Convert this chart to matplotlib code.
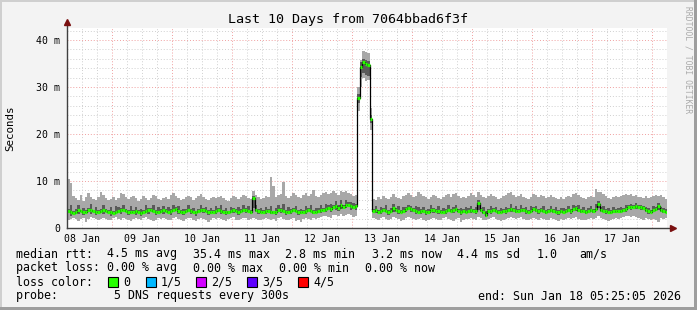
import numpy as np
import matplotlib
matplotlib.use("Agg")
import matplotlib.pyplot as plt
from matplotlib.patches import Rectangle

plt.rcParams['font.family'] = ['DejaVu Sans Mono']

# hourly samples, 5 pings each, sorted (ms); x in hours since 08 Jan 00:00
start_hour = 6.0
ping_min = [
    1.7, 1.9, 2.1, 2.0, 1.5, 1.9, 2.2, 1.3, 2.0, 2.3, 2.1, 1.9, 1.7, 2.0, 2.2, 1.9, 1.6, 1.8, 2.1, 2.3,
    2.0, 1.8, 2.2, 1.9, 1.7, 1.5, 2.0, 2.2, 1.9, 1.6, 2.1, 2.3, 2.0, 1.8, 1.4, 1.7, 2.1, 1.9, 2.2, 2.0,
    1.7, 1.6, 2.1, 2.3, 1.9, 1.7, 1.4, 2.0, 2.2, 2.1, 1.8, 1.5, 1.9, 2.2, 2.0, 1.7, 1.3, 1.8, 2.1, 1.9,
    2.2, 2.0, 1.7, 1.5, 1.9, 2.1, 2.3, 1.8, 1.6, 2.0, 2.2, 2.1, 1.7, 1.9, 2.2, 2.0, 1.8, 1.6, 1.9, 2.1,
    1.9, 1.7, 2.0, 1.5, 2.1, 2.3, 1.9, 1.6, 1.8, 2.0, 2.2, 1.4, 1.7, 1.2, 1.9, 2.1, 2.0, 1.8, 2.2, 1.9,
    2.1, 2.3, 2.5, 2.6, 2.4, 2.2, 2.7, 2.8, 2.5, 2.9, 2.6, 2.8, 3.0, 2.7, 2.4, 2.6, 25.0, 30.0, 31.9, 31.2,
    31.5, 20.9, 2.2, 2.0, 1.8, 2.1, 2.3, 1.9, 1.6, 2.0, 2.4, 2.1, 1.9, 1.5, 1.8, 2.2, 2.4, 2.1, 1.9, 1.6,
    1.9, 2.1, 1.8, 1.5, 1.7, 2.0, 2.2, 1.9, 1.6, 1.8, 2.1, 2.3, 2.0, 1.7, 1.4, 1.9, 2.1, 1.3, 1.8, 2.0,
    1.9, 2.2, 2.0, 1.8, 2.3, 2.1, 1.7, 1.6, 1.9, 2.1, 2.3, 2.0, 1.8, 1.5, 1.7, 2.0, 2.2, 2.4, 2.1, 1.9,
    2.1, 2.3, 2.0, 1.7, 1.6, 1.9, 2.2, 2.0, 1.7, 2.1, 1.9, 1.6, 1.8, 2.1, 2.0, 1.7, 1.5, 1.9, 1.8, 2.0,
    2.2, 1.9, 2.1, 2.3, 2.0, 1.7, 1.6, 1.8, 2.0, 2.2, 1.9, 2.1, 2.5, 2.2, 1.9, 1.7, 1.5, 1.8, 2.0, 2.1,
    1.9, 2.1, 2.4, 2.6, 2.5, 2.3, 2.6, 2.4, 2.2, 2.0, 1.8, 2.1, 1.9, 1.7, 2.0, 1.8, 1.3, 2.1, 1.9, 2.2,
]
ping_low = [
    3.3, 2.6, 2.9, 3.2, 3.0, 3.3, 2.8, 3.2, 3.4, 3.0, 3.3, 2.7, 3.1, 3.4, 3.0, 3.3, 3.2, 2.6, 2.9, 3.1,
    3.3, 2.9, 3.6, 3.4, 2.7, 3.0, 3.2, 2.8, 3.1, 2.6, 3.2, 3.4, 2.9, 3.6, 3.3, 2.7, 3.1, 3.3, 3.0, 3.4,
    3.2, 2.8, 3.5, 3.7, 2.9, 3.2, 2.7, 3.3, 3.4, 3.0, 3.2, 2.6, 3.3, 3.5, 3.1, 3.3, 2.8, 3.0, 3.2, 2.9,
    3.5, 3.0, 3.2, 2.7, 3.0, 3.3, 3.1, 3.3, 2.8, 3.4, 3.5, 3.1, 3.3, 2.9, 4.2, 3.4, 3.0, 3.1, 3.2, 3.0,
    3.3, 2.9, 3.0, 2.8, 3.4, 3.2, 3.3, 2.7, 3.2, 3.0, 3.5, 3.3, 2.8, 3.0, 3.1, 2.9, 3.4, 3.3, 3.0, 3.1,
    3.3, 3.1, 3.6, 3.4, 3.9, 3.3, 4.0, 3.8, 3.7, 4.0, 4.1, 4.2, 4.6, 3.9, 4.0, 3.8, 26.5, 32.1, 33.0, 32.6,
    32.3, 22.4, 3.3, 3.1, 3.2, 2.9, 3.5, 3.3, 2.8, 3.4, 3.5, 3.5, 3.0, 3.2, 3.3, 3.4, 3.8, 3.4, 3.5, 3.0,
    3.2, 3.0, 3.3, 2.8, 3.2, 3.4, 3.2, 3.4, 2.9, 3.1, 3.2, 3.0, 3.5, 3.3, 3.2, 3.6, 3.4, 2.8, 3.3, 3.1,
    3.3, 3.1, 3.4, 3.0, 3.9, 3.5, 2.9, 2.4, 3.3, 3.0, 3.5, 3.3, 2.9, 3.1, 3.3, 3.0, 3.6, 3.5, 3.4, 3.2,
    3.4, 3.3, 3.5, 3.0, 3.2, 3.1, 3.6, 3.4, 3.0, 3.5, 3.3, 2.9, 3.3, 3.4, 3.1, 3.2, 2.8, 3.3, 3.1, 3.4,
    3.5, 3.0, 3.7, 3.6, 3.5, 3.1, 3.3, 2.9, 3.4, 3.3, 3.2, 3.6, 4.2, 3.3, 3.4, 3.0, 3.2, 2.9, 3.3, 3.2,
    3.3, 3.1, 3.5, 3.5, 4.1, 3.9, 4.2, 4.0, 4.1, 3.8, 3.8, 3.4, 3.0, 3.2, 3.3, 3.7, 3.8, 3.5, 3.1, 3.2,
]
median_rtt = [
    3.7, 3.4, 3.2, 3.5, 3.9, 3.6, 3.4, 3.5, 3.8, 3.9, 3.6, 3.3, 3.4, 3.7, 3.8, 3.6, 3.5, 3.3, 3.2, 3.4,
    3.6, 3.8, 3.9, 3.7, 3.4, 3.3, 3.5, 3.6, 3.4, 3.2, 3.5, 3.7, 3.8, 3.9, 3.6, 3.5, 3.4, 3.6, 3.8, 3.7,
    3.5, 3.6, 3.9, 4.0, 3.7, 3.5, 3.4, 3.6, 3.8, 3.7, 3.5, 3.3, 3.6, 3.9, 3.8, 3.6, 3.4, 3.3, 3.5, 3.6,
    3.8, 3.7, 3.5, 3.4, 3.3, 3.6, 3.8, 3.6, 3.5, 3.7, 3.9, 3.8, 3.6, 3.5, 6.4, 3.8, 3.6, 3.4, 3.5, 3.7,
    3.6, 3.4, 3.3, 3.5, 3.8, 3.9, 3.6, 3.4, 3.5, 3.7, 3.8, 3.6, 3.5, 3.3, 3.4, 3.6, 3.8, 3.7, 3.5, 3.4,
    3.6, 3.8, 3.9, 4.1, 4.3, 4.0, 4.4, 4.6, 4.2, 4.8, 4.5, 4.9, 5.0, 4.7, 4.4, 4.6, 27.7, 34.3, 35.4, 34.9,
    34.6, 23.2, 3.6, 3.8, 3.5, 3.7, 3.9, 3.6, 3.4, 3.7, 4.2, 3.8, 3.6, 3.5, 3.7, 4.0, 4.3, 4.1, 3.8, 3.6,
    3.5, 3.7, 3.6, 3.4, 3.5, 3.8, 3.9, 3.7, 3.6, 3.4, 3.5, 3.7, 3.8, 3.6, 3.9, 4.0, 3.7, 3.5, 3.6, 3.4,
    3.6, 3.8, 3.7, 3.6, 5.3, 3.8, 3.5, 2.8, 3.6, 3.7, 3.8, 3.6, 3.5, 3.4, 3.6, 3.7, 3.9, 4.1, 3.8, 3.6,
    3.7, 3.9, 3.8, 3.6, 3.5, 3.7, 4.0, 3.8, 3.6, 3.9, 3.7, 3.5, 3.6, 3.8, 3.7, 3.5, 3.4, 3.6, 3.5, 3.7,
    3.8, 3.6, 4.0, 4.2, 3.9, 3.7, 3.6, 3.5, 3.7, 3.8, 3.6, 4.1, 5.1, 3.8, 3.7, 3.6, 3.5, 3.4, 3.6, 3.7,
    3.6, 3.7, 3.8, 4.0, 4.4, 4.5, 4.5, 4.6, 4.4, 4.5, 4.2, 3.8, 3.6, 3.5, 3.8, 4.1, 4.6, 3.9, 3.6, 3.5,
]
ping_high = [
    4.1, 4.9, 3.6, 4.0, 5.0, 3.9, 4.3, 3.8, 4.2, 5.1, 3.9, 4.4, 3.8, 4.1, 4.9, 4.0, 3.9, 4.5, 3.6, 4.6,
    4.5, 4.2, 5.0, 4.0, 3.8, 4.6, 3.9, 4.4, 3.8, 4.1, 3.9, 4.8, 4.2, 4.3, 4.9, 3.9, 4.4, 4.0, 4.7, 4.1,
    4.4, 4.0, 4.8, 4.4, 4.6, 3.9, 4.1, 4.0, 4.9, 4.1, 4.3, 3.7, 4.0, 5.0, 4.2, 4.5, 3.8, 4.2, 3.9, 4.6,
    4.2, 4.8, 3.9, 4.3, 3.7, 4.5, 4.2, 4.0, 4.4, 4.1, 5.0, 4.2, 4.6, 3.9, 6.9, 4.8, 4.0, 4.2, 3.9, 4.5,
    4.0, 4.6, 3.7, 4.2, 4.9, 4.3, 5.2, 3.8, 4.4, 4.1, 4.3, 4.7, 3.9, 4.0, 3.8, 4.6, 4.2, 4.9, 3.9, 4.2,
    4.3, 4.9, 4.3, 5.2, 4.8, 5.1, 4.9, 5.7, 4.8, 5.9, 5.0, 6.0, 5.6, 5.5, 5.3, 5.1, 28.5, 35.3, 36.0, 35.8,
    35.5, 24.1, 4.0, 4.7, 3.9, 4.5, 4.3, 4.8, 3.8, 4.2, 5.2, 4.2, 4.6, 3.9, 4.4, 4.5, 5.0, 4.6, 4.2, 4.7,
    4.4, 4.1, 4.5, 3.8, 4.0, 4.9, 4.3, 4.1, 4.6, 3.8, 4.3, 4.1, 4.8, 4.0, 4.5, 4.9, 4.1, 4.3, 4.0, 4.5,
    4.2, 4.7, 4.1, 4.4, 5.9, 4.2, 4.4, 3.6, 4.0, 4.6, 4.2, 4.5, 3.9, 4.3, 4.0, 4.5, 4.3, 5.1, 4.2, 4.6,
    4.1, 4.8, 4.2, 4.5, 3.9, 4.6, 4.4, 4.7, 4.0, 4.3, 4.6, 3.9, 4.1, 4.7, 4.1, 4.4, 3.8, 4.2, 4.3, 4.1,
    4.6, 4.0, 4.9, 4.6, 4.8, 4.1, 4.4, 3.9, 4.2, 4.7, 4.0, 5.2, 5.8, 4.4, 4.6, 4.0, 4.3, 3.8, 4.5, 4.1,
    4.3, 4.5, 4.2, 4.8, 4.8, 5.2, 4.9, 5.3, 4.8, 5.0, 4.7, 4.5, 4.3, 3.9, 4.6, 4.5, 5.4, 4.4, 4.3, 4.0,
]
ping_max = [
    10.4, 9.6, 6.8, 6.3, 6.0, 7.0, 5.8, 6.6, 7.4, 6.7, 6.2, 6.0, 6.5, 7.7, 7.1, 6.4, 5.9, 6.2, 6.7, 6.0,
    6.4, 7.4, 7.2, 6.6, 6.1, 6.5, 6.9, 6.3, 5.8, 6.2, 6.8, 6.4, 6.0, 6.3, 7.1, 6.8, 6.1, 5.9, 6.4, 6.6,
    6.2, 7.0, 7.5, 6.8, 6.4, 5.9, 6.1, 6.6, 6.9, 6.5, 6.0, 6.3, 6.8, 7.2, 6.6, 6.2, 5.9, 6.4, 6.7, 6.3,
    6.6, 6.9, 6.3, 6.0, 5.8, 6.4, 6.8, 6.5, 6.1, 6.7, 7.1, 6.9, 6.4, 6.2, 7.9, 7.0, 6.5, 6.2, 6.4, 6.8,
    6.6, 10.8, 9.0, 6.7, 7.0, 7.3, 9.8, 6.8, 6.4, 6.9, 7.5, 7.1, 6.6, 6.3, 7.0, 7.4, 6.8, 7.2, 8.1, 6.9,
    6.6, 7.1, 7.4, 7.6, 7.2, 7.5, 7.8, 7.4, 7.1, 7.9, 7.7, 7.9, 7.5, 7.2, 6.8, 7.0, 30.0, 35.7, 37.7, 37.4,
    37.2, 25.5, 6.2, 5.9, 6.5, 6.2, 6.8, 6.3, 6.1, 6.6, 7.2, 6.7, 6.4, 6.2, 6.8, 7.1, 7.5, 7.0, 6.6, 6.9,
    7.7, 7.3, 6.8, 6.5, 6.2, 6.7, 7.1, 6.9, 6.4, 6.1, 6.5, 7.0, 7.2, 6.7, 7.3, 7.5, 6.9, 6.4, 6.6, 6.3,
    6.8, 7.4, 7.0, 6.6, 7.7, 7.1, 6.7, 6.4, 6.9, 7.2, 6.8, 6.5, 6.2, 6.4, 6.9, 7.1, 7.4, 7.6, 7.0, 6.6,
    6.9, 7.2, 6.7, 6.4, 6.1, 6.6, 7.3, 7.0, 6.6, 7.1, 6.8, 6.4, 6.5, 7.0, 6.7, 6.3, 6.1, 6.5, 6.2, 6.7,
    6.9, 6.5, 7.2, 7.4, 7.0, 6.7, 6.4, 6.2, 6.6, 6.9, 6.6, 8.3, 7.6, 7.7, 7.3, 6.8, 6.4, 6.2, 6.6, 6.9,
    6.5, 6.8, 7.1, 7.3, 7.0, 7.2, 6.9, 7.1, 6.7, 6.5, 6.4, 6.8, 6.3, 6.6, 6.8, 7.1, 6.8, 7.0, 6.6, 6.2,
]

day_labels = ['08 Jan', '09 Jan', '10 Jan', '11 Jan', '12 Jan',
              '13 Jan', '14 Jan', '15 Jan', '16 Jan', '17 Jan']
y_ticks = [0, 10, 20, 30, 40]
y_labels = ['0', '10 m', '20 m', '30 m', '40 m']

loss_labels = ['0', '1/5', '2/5', '3/5', '4/5']
loss_colors = ['#26ff00', '#00b8ff', '#d200ff', '#5e00ff', '#ff0000']

title = 'Last 10 Days from 7064bbad6f3f'
rtt_parts = ['median rtt:', '4.5 ms avg', '35.4 ms max', '2.8 ms min',
             '3.2 ms now', '4.4 ms sd', '1.0', 'am/s']
rtt_x = [16, 107, 193, 285, 372, 457, 537, 579]
loss_parts = ['packet loss:', '0.00 % avg', '0.00 % max', '0.00 % min', '0.00 % now']
loss_x = [16, 107, 193, 279, 365]
probe_line = 'probe:        5 DNS requests every 300s'
end_line = 'end: Sun Jan 18 05:25:05 2026'

W, H = 697, 310
fig = plt.figure(figsize=(W / 100, H / 100), dpi=100, facecolor='#f3f3f3')
ax = fig.add_axes([67 / W, 82 / H, 600 / W, 200 / H])
ax.set_facecolor('white')

n = len(median_rtt)
edges = start_hour + np.arange(n + 1)

def ext(a):
    return np.append(a, a[-1])

ax.fill_between(edges, ext(ping_min), ext(ping_max), step='post',
                color='#a8a8a8', lw=0)
ax.fill_between(edges, ext(ping_low), ext(ping_high), step='post',
                color='#5a5a5a', lw=0)
ax.step(edges, ext(median_rtt), where='post', color='black', lw=0.9)
ax.hlines(median_rtt, edges[:-1], edges[1:], color='#26ff00', lw=2.3)

ax.set_xlim(start_hour, start_hour + n)
ax.set_ylim(0, 200 / 4.7)

# grid
dot = (0, (1, 2))
for h in np.arange(0, 252, 6):
    if start_hour < h < start_hour + n:
        major = h % 24 == 0
        ax.axvline(h, color='#f0a0a0' if major else '#d0d0d0', lw=0.7,
                   ls=dot, zorder=0)
for v in np.arange(2, 43, 2):
    major = v % 10 == 0
    ax.axhline(v, color='#f0a0a0' if major else '#d0d0d0', lw=0.7,
               ls=dot, zorder=0)

for s in ax.spines.values():
    s.set_visible(False)
ax.plot([0, 0], [0, 1.02], transform=ax.transAxes, color='#404040',
        lw=1, clip_on=False)
ax.plot([0, 1.008], [0, 0], transform=ax.transAxes, color='#404040',
        lw=1, clip_on=False)
ax.plot([0], [1.03], marker='^', ms=5, color='#7a1010',
        transform=ax.transAxes, clip_on=False)
ax.plot([1.01], [0], marker='>', ms=5, color='#7a1010',
        transform=ax.transAxes, clip_on=False)

ax.set_xticks([12 + 24 * k for k in range(len(day_labels))])
ax.set_xticklabels(day_labels)
ax.set_yticks(y_ticks)
ax.set_yticklabels(y_labels)
ax.tick_params(length=0, labelsize=7.1, colors='black')
ax.tick_params(axis='x', pad=4.5)
ax.tick_params(axis='y', pad=5)
ax.set_ylabel('Seconds', fontsize=7.8, labelpad=15)

fig.text(0.5, 1 - 19 / H, title, ha='center', va='center', fontsize=9.6)
fig.text(688 / W, 1 - 60 / H, 'RRDTOOL / TOBI OETIKER', rotation=-90,
         ha='center', va='center', fontsize=5.8, color='#aaaaaa')

fs = 8.4
for txt, px in zip(rtt_parts, rtt_x):
    fig.text(px / W, 1 - 254 / H, txt, va='center', fontsize=fs)
for txt, px in zip(loss_parts, loss_x):
    fig.text(px / W, 1 - 268 / H, txt, va='center', fontsize=fs)
fig.text(16 / W, 1 - 282 / H, 'loss color:', va='center', fontsize=fs)
box_x = [108, 146, 196, 247, 298]
for bx, lab, col in zip(box_x, loss_labels, loss_colors):
    fig.add_artist(Rectangle((bx / W, 1 - 287 / H), 10 / W, 10 / H,
                             transform=fig.transFigure, facecolor=col,
                             edgecolor='black', lw=0.8))
    fig.text((bx + 15) / W, 1 - 282 / H, lab, va='center', fontsize=fs)
fig.text(16 / W, 1 - 296 / H, probe_line, va='center', fontsize=fs)
fig.text(681 / W, 1 - 296 / H, end_line, va='center', ha='right', fontsize=fs)

# frame
fig.add_artist(Rectangle((0, 1 - 2 / H), 1, 2 / H, transform=fig.transFigure,
                         facecolor='#cfcfcf', lw=0))
fig.add_artist(Rectangle((0, 0), 2 / W, 1, transform=fig.transFigure,
                         facecolor='#cfcfcf', lw=0))
fig.add_artist(Rectangle((1 - 3 / W, 0), 3 / W, 1, transform=fig.transFigure,
                         facecolor='#9e9e9e', lw=0))
fig.add_artist(Rectangle((0, 0), 1, 3 / H, transform=fig.transFigure,
                         facecolor='#9e9e9e', lw=0))

fig.savefig('out.png', dpi=100, facecolor=fig.get_facecolor())
